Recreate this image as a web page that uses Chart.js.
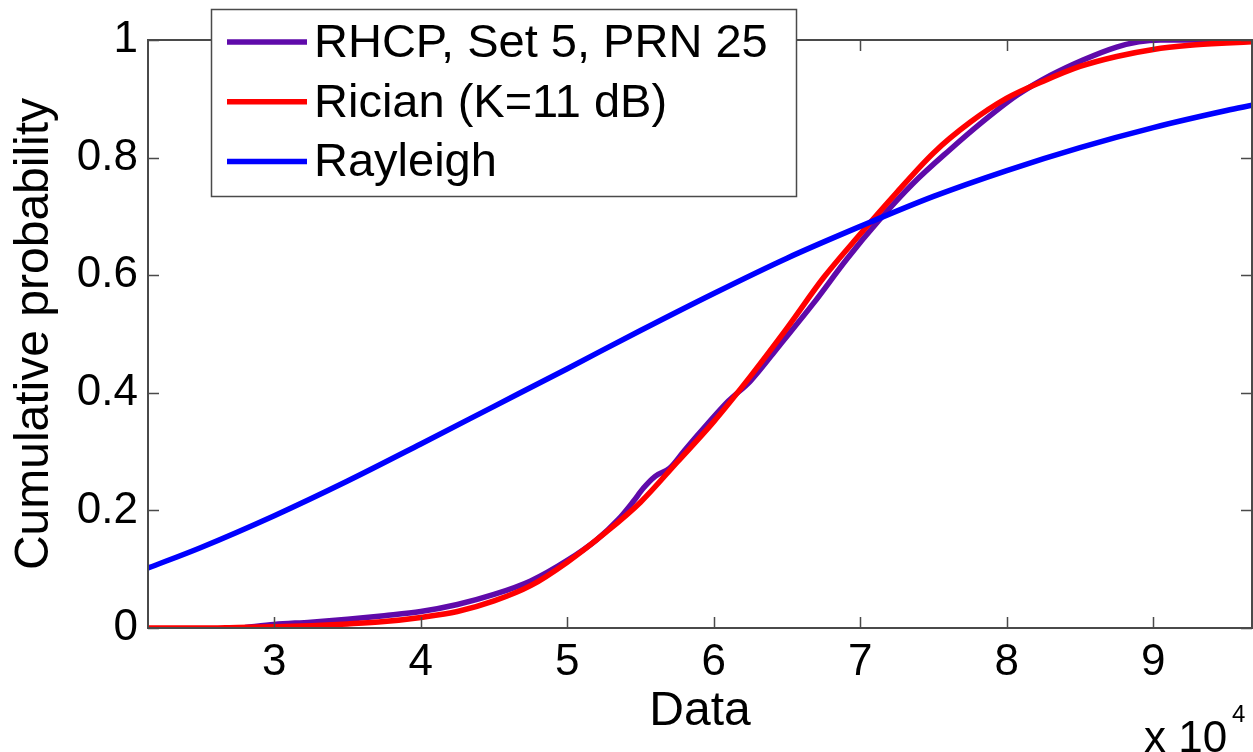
<!DOCTYPE html>
<html>
<head>
<meta charset="utf-8">
<title>Cumulative probability</title>
<script src="https://cdn.jsdelivr.net/npm/chart.js@4.4.0/dist/chart.umd.min.js"></script>
<style>
  html, body { margin: 0; padding: 0; background: #fff; }
  #wrap { width: 1253px; height: 752px; }
</style>
</head>
<body>
<div id="wrap"><canvas id="cdf" width="1253" height="752"></canvas></div>
<script>
// ---------- data (x in units of 1e4) ----------
var xMin = 2.138, xMax = 9.674;
var xTicks = [3, 4, 5, 6, 7, 8, 9];
var yTicks = [0, 0.2, 0.4, 0.6, 0.8, 1];
var yTickLabels = ['0', '0.2', '0.4', '0.6', '0.8', '1'];

var seriesNames = ['RHCP, Set 5, PRN 25', 'Rician (K=11 dB)', 'Rayleigh'];
var seriesColors = ['rgb(95,10,170)', '#ff0000', '#0000ff'];

var rhcpX = [2.80, 3.00, 3.25, 3.50, 3.75, 4.00, 4.25, 4.50, 4.75, 5.00, 5.20, 5.35, 5.45, 5.52, 5.60, 5.70,
             5.80, 5.95, 6.10, 6.25, 6.45, 6.68, 6.91, 7.13, 7.36, 7.61, 7.84, 8.07, 8.30, 8.52, 8.75, 8.90,
             9.05, 9.674];
var rhcpY = [0.001, 0.006, 0.010, 0.015, 0.021, 0.028, 0.040, 0.057, 0.080, 0.115, 0.150, 0.185, 0.215, 0.238, 0.258, 0.272,
             0.302, 0.345, 0.386, 0.420, 0.481, 0.552, 0.628, 0.694, 0.756, 0.813, 0.862, 0.906, 0.940, 0.966, 0.988, 0.997,
             1.000, 1.000];

var ricianX = [2.138, 2.50, 2.75, 3.00, 3.25, 3.50, 3.75, 4.00, 4.25, 4.50, 4.75, 5.00, 5.25, 5.50, 5.75, 6.00,
               6.25, 6.50, 6.75, 7.00, 7.25, 7.50, 7.75, 8.00, 8.25, 8.50, 8.75, 9.00, 9.25, 9.50, 9.674];
var ricianY = [0.000, 0.000, 0.001, 0.002, 0.004, 0.007, 0.011, 0.018, 0.028, 0.046, 0.072, 0.112, 0.160, 0.214, 0.282, 0.351,
               0.428, 0.510, 0.596, 0.670, 0.741, 0.808, 0.860, 0.901, 0.930, 0.955, 0.972, 0.984, 0.991, 0.995, 0.997];

var rayleighX = [2.138, 2.50, 3.00, 3.50, 4.00, 4.50, 5.00, 5.50, 6.00, 6.50, 7.00, 7.50, 8.00, 8.50, 9.00, 9.50, 9.674];
var rayleighY = [0.102, 0.137, 0.191, 0.250, 0.313, 0.377, 0.441, 0.506, 0.569, 0.629, 0.683, 0.734, 0.778, 0.817, 0.851, 0.880, 0.889];

function pairs(xs, ys) {
  return xs.map(function (x, i) { return { x: x, y: ys[i] }; });
}

var FONT = '"Liberation Sans", Arial, Helvetica, sans-serif';
Chart.defaults.font.family = FONT;
Chart.defaults.color = '#000';

// ---------- MATLAB-style box, inward ticks, legend, exponent ----------
var matlabAxes = {
  id: 'matlabAxes',
  afterDatasetsDraw: function (chart) {
    var ctx = chart.ctx, a = chart.chartArea;
    var xs = chart.scales.x, ys = chart.scales.y;
    var tl = 11;
    ctx.save();
    ctx.strokeStyle = '#4a4a4a';
    ctx.lineWidth = 1.5;
    ctx.beginPath();
    xTicks.forEach(function (v) {
      var px = Math.round(xs.getPixelForValue(v)) + 0.5;
      ctx.moveTo(px, a.bottom); ctx.lineTo(px, a.bottom - tl);
      ctx.moveTo(px, a.top); ctx.lineTo(px, a.top + tl);
    });
    yTicks.forEach(function (v) {
      var py = Math.round(ys.getPixelForValue(v)) + 0.5;
      ctx.moveTo(a.left, py); ctx.lineTo(a.left + tl, py);
      ctx.moveTo(a.right, py); ctx.lineTo(a.right - tl, py);
    });
    ctx.stroke();
    ctx.lineWidth = 2;
    ctx.strokeRect(a.left, a.top, a.right - a.left, a.bottom - a.top);
    ctx.restore();
  },
  afterDraw: function (chart) {
    var ctx = chart.ctx;
    // legend box
    var bx = 211, by = 9, bw = 585, bh = 187;
    ctx.save();
    ctx.fillStyle = '#fff';
    ctx.fillRect(bx, by, bw, bh);
    ctx.strokeStyle = '#4a4a4a';
    ctx.lineWidth = 1.5;
    ctx.strokeRect(bx + 0.5, by + 0.5, bw, bh);
    ctx.font = '47px ' + FONT;
    ctx.textBaseline = 'middle';
    ctx.textAlign = 'left';
    seriesNames.forEach(function (name, i) {
      var cy = 42 + i * 59.7;
      ctx.strokeStyle = seriesColors[i];
      ctx.lineWidth = 5.5;
      ctx.beginPath();
      ctx.moveTo(227, cy);
      ctx.lineTo(307, cy);
      ctx.stroke();
      ctx.fillStyle = '#000';
      ctx.fillText(name, 314, cy + 2);
    });
    // x-axis exponent label
    ctx.textBaseline = 'alphabetic';
    ctx.font = '44px ' + FONT;
    ctx.fillText('x 10', 1144, 752);
    ctx.font = '24px ' + FONT;
    ctx.fillText('4', 1232, 722);
    ctx.restore();
  }
};

function ds(i, xs, ys) {
  return {
    label: seriesNames[i],
    data: pairs(xs, ys),
    borderColor: seriesColors[i],
    backgroundColor: seriesColors[i],
    borderWidth: 5.5,
    pointRadius: 0,
    fill: false,
    cubicInterpolationMode: 'monotone',
    clip: 0
  };
}

new Chart(document.getElementById('cdf'), {
  type: 'line',
  data: {
    // drawn bottom-up: RHCP first, Rician over it, Rayleigh on top
    datasets: [
      Object.assign(ds(2, rayleighX, rayleighY), { order: 1 }),
      Object.assign(ds(1, ricianX, ricianY), { order: 2 }),
      Object.assign(ds(0, rhcpX, rhcpY), { order: 3 })
    ]
  },
  options: {
    responsive: false,
    animation: false,
    layout: { padding: { top: 40, right: 1, bottom: 0, left: 0 } },
    plugins: {
      legend: { display: false },
      tooltip: { enabled: false }
    },
    scales: {
      x: {
        type: 'linear',
        min: xMin,
        max: xMax,
        grid: { display: false, drawTicks: false },
        border: { display: false },
        afterBuildTicks: function (s) { s.ticks = xTicks.map(function (v) { return { value: v }; }); },
        afterFit: function (s) { s.height = 124; },
        ticks: {
          padding: 8,
          font: { size: 44 },
          maxRotation: 0,
          callback: function (v) { return String(v); }
        },
        title: {
          display: true,
          text: 'Data',
          font: { size: 48 },
          padding: { top: 0, bottom: 11 }
        }
      },
      y: {
        min: 0,
        max: 1,
        grid: { display: false, drawTicks: false },
        border: { display: false },
        afterBuildTicks: function (s) { s.ticks = yTicks.map(function (v) { return { value: v }; }); },
        afterFit: function (s) { s.width = 148; },
        ticks: {
          padding: 10,
          font: { size: 44 },
          callback: function (v) {
            var i = yTicks.indexOf(v);
            return i >= 0 ? yTickLabels[i] : '';
          }
        },
        title: {
          display: true,
          text: 'Cumulative probability',
          font: { size: 48 },
          padding: { top: 6, bottom: 0 }
        }
      }
    }
  },
  plugins: [matlabAxes]
});
</script>
</body>
</html>
